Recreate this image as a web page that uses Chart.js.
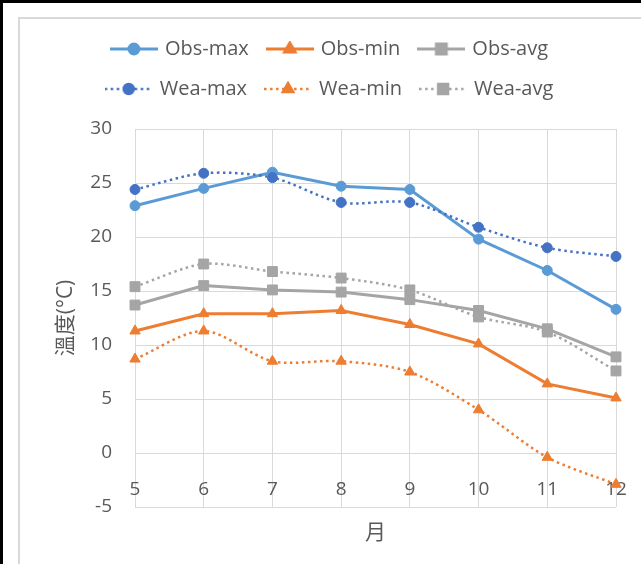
<!DOCTYPE html>
<html>
<head>
<meta charset="utf-8">
<script src="https://cdn.jsdelivr.net/npm/chart.js@4"></script>
<style>
  html, body { margin: 0; padding: 0; background: #fff; }
  body { width: 641px; height: 564px; position: relative; overflow: hidden; }
  #outer { position: absolute; left: 0; top: 0; width: 638px; height: 561px;
           border-top: 3px solid #000; border-left: 3px solid #000; }
  #frame { position: absolute; left: 18px; top: 17px; right: 0; bottom: 0;
           border-top: 2px solid #d9d9d9; border-left: 2px solid #d9d9d9; }
  #chart { position: absolute; left: 20px; top: 19px; }
</style>
</head>
<body>
<div id="outer"></div>
<div id="frame"></div>
<canvas id="chart" width="621" height="545"></canvas>
<script>
// Monthly temperatures: observed vs. weather-station values
const months = ['5', '6', '7', '8', '9', '10', '11', '12'];

const obsMax = [22.9, 24.5, 26.0, 24.7, 24.4, 19.8, 16.9, 13.3];
const obsMin = [11.3, 12.9, 12.9, 13.2, 11.9, 10.1, 6.4, 5.1];
const obsAvg = [13.7, 15.5, 15.1, 14.9, 14.2, 13.2, 11.5, 8.9];
const weaMax = [24.4, 25.9, 25.5, 23.2, 23.2, 20.9, 19.0, 18.2];
const weaMin = [8.7, 11.3, 8.5, 8.5, 7.5, 4.0, -0.4, -2.9];
const weaAvg = [15.4, 17.5, 16.8, 16.2, 15.1, 12.6, 11.2, 7.6];

const yTicks = [-5, 0, 5, 10, 15, 20, 25, 30];

const FONT = "'Open Sans', 'Noto Sans CJK TC', sans-serif";
const TEXT = '#595959';
const BLUE = '#5B9BD5', DBLUE = '#4472C4', ORANGE = '#ED7D31', GRAY = '#A5A5A5';
const DOT = [2.5, 3.5];

function series(label, data, color, shape, radius, dotted, idx) {
  return {
    label, data,
    borderColor: color,
    backgroundColor: color,
    borderWidth: dotted ? 2.5 : 3,
    borderDash: dotted ? DOT : [],
    tension: dotted ? 0.3 : 0,
    pointStyle: shape,
    pointRadius: radius,
    pointHoverRadius: radius,
    pointBackgroundColor: color,
    pointBorderColor: color,
    pointBorderWidth: 1,
    order: 10 - idx
  };
}

const datasets = [
  series('Obs-max', obsMax, BLUE, 'circle', 5, false, 0),
  series('Obs-min', obsMin, ORANGE, 'triangle', 6, false, 1),
  series('Obs-avg', obsAvg, GRAY, 'rect', 7, false, 2),
  series('Wea-max', weaMax, DBLUE, 'circle', 5, true, 3),
  series('Wea-min', weaMin, ORANGE, 'triangle', 6, true, 4),
  series('Wea-avg', weaAvg, GRAY, 'rect', 7, true, 5)
];

// Legend swatch: short line segment with the series marker in its middle
function swatch(ds) {
  const c = document.createElement('canvas');
  c.width = 48; c.height = 16;
  const g = c.getContext('2d');
  g.strokeStyle = ds.borderColor;
  g.lineWidth = ds.borderWidth;
  g.setLineDash(ds.borderDash);
  g.beginPath(); g.moveTo(0, 8); g.lineTo(48, 8); g.stroke();
  g.setLineDash([]);
  Chart.helpers.drawPoint(g, {
    pointStyle: ds.pointStyle, radius: ds.pointRadius, borderWidth: 1, rotation: 0
  }, 24, 8);
  g.fillStyle = ds.pointBackgroundColor;
  g.fill();
  return c;
}

// Leaves some free space between the legend and the plot area
const legendGap = {
  id: 'legendGap',
  afterInit(c) {
    const lg = c.legend;
    const fit = lg.fit;
    lg.fit = function () { fit.call(this); this.height += 20; };
  }
};

const chart = new Chart(document.getElementById('chart'), {
  type: 'line',
  data: { labels: months, datasets },
  plugins: [legendGap],
  options: {
    responsive: false,
    devicePixelRatio: 1,
    animation: false,
    layout: { padding: { top: 0, right: 25, bottom: 0, left: 25 } },
    plugins: {
      tooltip: { enabled: false },
      legend: {
        position: 'top',
        labels: {
          usePointStyle: true,
          pointStyleWidth: 42,
          padding: 20,
          color: TEXT,
          font: { family: FONT, size: 20 },
          sort: (a, b) => a.datasetIndex - b.datasetIndex,
          generateLabels(ch) {
            return Chart.defaults.plugins.legend.labels.generateLabels(ch).map(item => {
              item.pointStyle = swatch(ch.data.datasets[item.datasetIndex]);
              return item;
            });
          }
        }
      }
    },
    scales: {
      x: {
        type: 'category',
        offset: false,
        grid: { color: '#d9d9d9', lineWidth: 1, drawTicks: false },
        border: { display: false },
        ticks: { color: TEXT, font: { family: FONT, size: 19 }, padding: 6, mirror: true, maxRotation: 0, autoSkip: false },
        title: { display: true, text: '月', color: TEXT, font: { family: FONT, size: 21 }, padding: { top: 0, bottom: 18 } },
        afterFit(scale) { scale.height = 57; }
      },
      y: {
        min: -5, max: 30,
        afterBuildTicks(scale) { scale.ticks = yTicks.map(v => ({ value: v })); },
        grid: { color: '#d9d9d9', lineWidth: 1, drawTicks: false },
        border: { display: false },
        ticks: { color: TEXT, font: { family: FONT, size: 19 }, padding: 23 },
        title: { display: true, text: '溫度(°C)', color: TEXT, font: { family: FONT, size: 21 }, padding: { top: 8, bottom: 0 } },
        afterFit(scale) { scale.width = 90; }
      }
    }
  }
});
</script>
</body>
</html>
